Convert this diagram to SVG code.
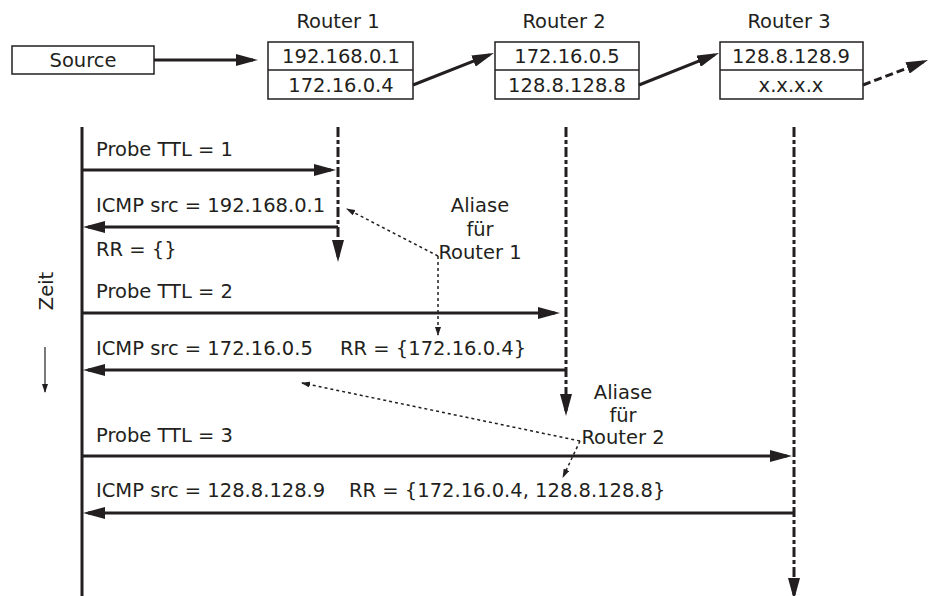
<svg xmlns="http://www.w3.org/2000/svg" width="931" height="596" viewBox="0 0 931 596">
<style>
text{font-family:"DejaVu Sans","Verdana",sans-serif;font-size:19.5px;fill:#231f20}
.m{text-anchor:middle}
.box{fill:#fff;stroke:#231f20;stroke-width:1.5}
.arr{fill:none;stroke:#231f20;stroke-width:3;marker-end:url(#ah)}
.life{fill:none;stroke:#231f20;stroke-width:3}
.dash{stroke-dasharray:10 3 4 3}
.dot{fill:none;stroke:#231f20;stroke-width:1.5;stroke-dasharray:3 3;marker-end:url(#sh)}
</style>
<defs>
<marker id="ah" markerUnits="userSpaceOnUse" viewBox="0 0 22 12" markerWidth="22" markerHeight="12" refX="17" refY="6" orient="auto"><path d="M0,0 L22,6 L0,12 z" fill="#231f20"/></marker>
<marker id="sh" markerUnits="userSpaceOnUse" viewBox="0 0 9 6" markerWidth="9" markerHeight="6" refX="8" refY="3" orient="auto"><path d="M0,0 L9,3 L0,6 z" fill="#231f20"/></marker>
</defs>

<g id="source">
<rect class="box" x="12" y="46" width="142" height="28"/>
<text class="m" x="83" y="67">Source</text>
</g>
<g id="router1">
<text class="m" x="338" y="28">Router 1</text>
<rect class="box" x="268" y="42" width="145" height="57"/>
<line x1="268" y1="70" x2="413" y2="70" stroke="#231f20" stroke-width="1.5"/>
<text class="m" x="341" y="63">192.168.0.1</text>
<text class="m" x="341" y="92">172.16.0.4</text>
</g>
<g id="router2">
<text class="m" x="564" y="28">Router 2</text>
<rect class="box" x="495" y="42" width="144" height="57"/>
<line x1="495" y1="70" x2="639" y2="70" stroke="#231f20" stroke-width="1.5"/>
<text class="m" x="567" y="63">172.16.0.5</text>
<text class="m" x="567" y="92">128.8.128.8</text>
</g>
<g id="router3">
<text class="m" x="789" y="28">Router 3</text>
<rect class="box" x="720" y="42" width="143" height="57"/>
<line x1="720" y1="70" x2="863" y2="70" stroke="#231f20" stroke-width="1.5"/>
<text class="m" x="791" y="63">128.8.128.9</text>
<text class="m" x="791" y="92">x.x.x.x</text>
</g>

<g id="connectors">
<line class="arr" x1="154" y1="60" x2="253" y2="60"/>
<line class="arr" x1="413" y1="85" x2="489.3" y2="54.8"/>
<line class="arr" x1="639" y1="85" x2="714.4" y2="54.9"/>
<line class="arr" x1="863" y1="85" x2="923.4" y2="61.9" stroke-dasharray="8 4"/>

<line class="life" x1="82" y1="127" x2="82" y2="596"/>
<line class="life dash" x1="338" y1="127" x2="338" y2="257" marker-end="url(#ah)"/>
<line class="life dash" x1="566" y1="127" x2="566" y2="411" marker-end="url(#ah)"/>
<line class="life dash" x1="794" y1="127" x2="794" y2="595" marker-end="url(#ah)"/>

<line class="arr" x1="82" y1="170" x2="331" y2="170"/>
<line class="arr" x1="338" y1="227" x2="88" y2="227"/>
<line class="arr" x1="82" y1="313" x2="555" y2="313"/>
<line class="arr" x1="566" y1="370" x2="88" y2="370"/>
<line class="arr" x1="82" y1="456" x2="787" y2="456"/>
<line class="arr" x1="794" y1="513" x2="88" y2="513"/>

<path class="dot" d="M438,256 L347,209"/>
<path class="dot" d="M438,256 L438,335"/>
<path class="dot" d="M580,441 L302,383"/>
<path class="dot" d="M580,441 L563,477"/>

<line x1="45" y1="347" x2="45" y2="392" stroke="#231f20" stroke-width="1.2" marker-end="url(#sh)"/>
</g>

<g id="labels">
<text x="96" y="156">Probe TTL = 1</text>
<text x="96" y="212">ICMP src = 192.168.0.1</text>
<text x="96" y="256">RR = {}</text>
<text x="96" y="298">Probe TTL = 2</text>
<text x="96" y="355">ICMP src = 172.16.0.5</text>
<text x="340" y="355">RR = {172.16.0.4}</text>
<text x="96" y="442">Probe TTL = 3</text>
<text x="96" y="497">ICMP src = 128.8.128.9</text>
<text x="349" y="497">RR = {172.16.0.4, 128.8.128.8}</text>
</g>
<g id="alias1">
<text class="m" x="480" y="212">Aliase</text>
<text class="m" x="480" y="236">für</text>
<text class="m" x="480" y="259">Router 1</text>
</g>
<g id="alias2">
<text class="m" x="623" y="399">Aliase</text>
<text class="m" x="623" y="422">für</text>
<text class="m" x="623" y="444">Router 2</text>
</g>
<g id="zeit">
<text class="m" transform="translate(53,291) rotate(-90)">Zeit</text>
</g>
</svg>
